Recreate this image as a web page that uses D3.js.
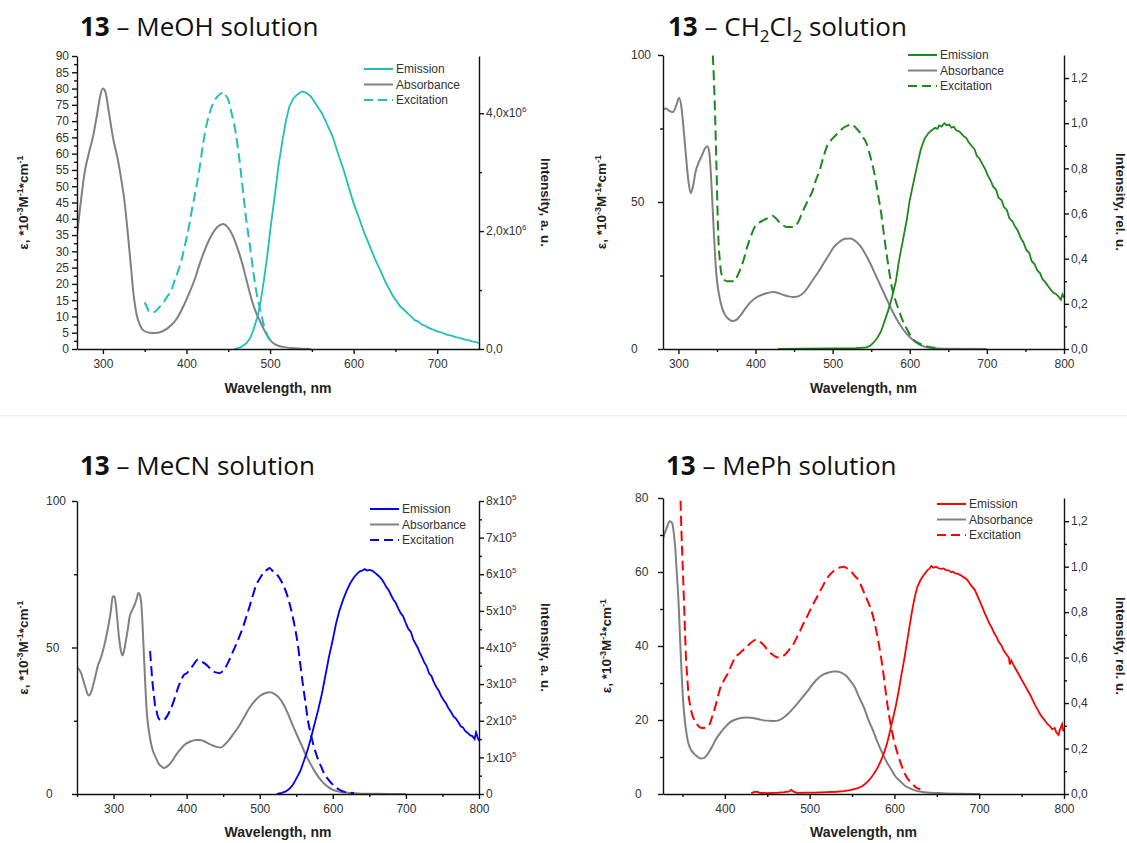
<!DOCTYPE html>
<html>
<head>
<meta charset="utf-8">
<script src="https://cdn.jsdelivr.net/npm/d3@7"></script>
<style>
  body { margin: 0; background: #fff; }
  svg { display: block; }
  .tick text { font-family: "Liberation Sans", Arial, sans-serif; font-size: 12px; fill: #333; }
  .axis path, .axis line { stroke: #111; stroke-width: 1.4; }
  .ttl { font-family: "Open Sans", sans-serif; font-size: 26px; fill: #111; }
  .lab { font-family: "Liberation Sans", Arial, sans-serif; font-size: 14px; font-weight: bold; fill: #222; }
  .leg { font-family: "Liberation Sans", Arial, sans-serif; font-size: 12px; fill: #333; }
</style>
</head>
<body>
<div id="chart"></div>
<script>
// ---- data: [wavelength nm, value] ----
// MeOH: absorbance on left (eps), excitation/emission on right (x10^6)
var meohAbs = [[269,35],[273,44],[278,54],[283,60],[288,65],[293,72],[297,78],[300,80],[303,79],[307,73],[312,65],[318,58],[322,52],[326,45],[330,35],[334,24],[337,16],[340,11],[344,7.5],[349,5.6],[356,5.0],[362,4.9],[370,5.3],[378,6.5],[385,8.2],[390,10],[397,13.5],[403,17],[410,21.5],[416,26.3],[422,30.5],[429,34.5],[437,37.5],[444,38.4],[449,37.5],[455,35],[461,31],[467,26],[472,21],[476,17],[482,12],[489,8],[495,4.8],[502,2.2],[510,1.0],[519,0.5],[530,0.2],[549,0]];
var meohExc = [[350,0.79],[353,0.7],[356,0.62],[362,0.63],[367,0.7],[373,0.8],[377,0.89],[382,1.0],[386,1.17],[390,1.32],[394,1.51],[398,1.75],[403,2.08],[407,2.4],[412,2.76],[416,3.1],[420,3.49],[424,3.8],[429,4.06],[433,4.2],[437,4.28],[441,4.33],[444,4.36],[447,4.3],[450,4.23],[454,4.0],[459,3.66],[463,3.25],[467,2.76],[471,2.25],[476,1.74],[480,1.3],[484,0.94],[489,0.62],[493,0.38],[497,0.22],[502,0.12]];
var meohEm = [[457,0],[465,0.03],[472,0.1],[476,0.18],[480,0.32],[485,0.55],[489,0.83],[493,1.2],[497,1.62],[501,2.1],[506,2.64],[510,3.1],[515,3.55],[519,3.87],[523,4.11],[528,4.25],[532,4.31],[538,4.37],[543,4.35],[549,4.28],[555,4.15],[562,4.0],[568,3.82],[575,3.6],[581,3.33],[588,3.04],[594,2.75],[600,2.47],[607,2.2],[613,1.96],[620,1.72],[626,1.51],[633,1.3],[639,1.11],[647,0.9],[656,0.72],[660,0.67],[665,0.6],[669,0.55],[673,0.49],[677,0.47],[681,0.42],[686,0.39],[691,0.35],[695,0.33],[700,0.3],[705,0.28],[712,0.24],[716,0.23],[722,0.2],[727,0.19],[733,0.16],[737,0.15],[742,0.13],[746,0.12],[750,0.1]];

// CH2Cl2: absorbance left (eps), excitation/emission right (rel. u.)
var dcmAbs = [[280,81.5],[284,81.8],[288,81],[293,80.6],[297,82.7],[301,85.5],[304,82],[307,74],[310,65],[313,57],[316,53],[319,55.5],[322,60],[326,63.3],[330,65.5],[334,68],[337.5,69],[340,67],[342,60],[344,50],[346,39.3],[349,26],[352,19.5],[355,15.5],[360,11.8],[365,10.2],[370,9.5],[375,9.9],[380,11.3],[385,13.1],[392,15.5],[399,17.2],[406,18.2],[413,18.9],[424,19.4],[436,18.4],[443,17.9],[450,17.7],[456,18],[462,19],[468,21],[474,23.4],[481,26],[488,29],[495,32],[502,34.8],[509,36.5],[516,37.5],[523,37.6],[529,36.8],[535,35.3],[542,32.5],[549,29],[556,25],[563,21],[570,17],[577,13.1],[584,9.7],[591,6.8],[598,4.6],[605,2.9],[612,1.6],[619,0.8],[630,0.3],[645,0.1],[700,0]];
var dcmExc = [[344.6,1.30],[347,1.10],[349.3,0.81],[351.6,0.51],[354,0.38],[356,0.33],[360,0.305],[363,0.30],[368,0.30],[373,0.30],[376,0.32],[380,0.35],[385,0.40],[389,0.45],[394,0.50],[399,0.54],[405,0.56],[410,0.57],[416,0.58],[422,0.59],[426,0.58],[430,0.565],[435,0.55],[440,0.54],[448,0.54],[455,0.56],[460,0.6],[464,0.63],[469,0.665],[474,0.70],[478,0.745],[483,0.79],[488,0.85],[493,0.90],[498,0.925],[502,0.94],[508,0.96],[514,0.98],[520,0.99],[525,0.995],[530,0.98],[535,0.96],[540,0.935],[544,0.91],[549,0.85],[554,0.78],[558,0.7],[563,0.6],[566,0.52],[570,0.42],[573,0.35],[577,0.27],[581,0.22],[586,0.17],[591,0.125],[596,0.09],[600,0.065],[605,0.04],[612,0.025],[619,0.015],[626,0.008],[633,0.005]];
var dcmEm = [[429,0],[460,0.002],[500,0.003],[530,0.004],[544,0.007],[549,0.015],[553.5,0.03],[558,0.05],[563,0.08],[567,0.12],[572,0.17],[577,0.23],[582,0.30],[586,0.39],[591,0.48],[596,0.57],[600,0.66],[605,0.74],[610,0.82],[614,0.88],[619,0.93],[624,0.955],[629,0.97],[633,0.98],[636,0.975],[638,0.99],[641,0.985],[645,1.0],[648,0.99],[651,0.995],[654,0.98],[657,0.985],[660,0.97],[663,0.965],[666,0.958],[669,0.945],[673,0.935],[676,0.918],[680,0.90],[684,0.885],[687,0.855],[690,0.845],[694,0.82],[698,0.795],[701,0.77],[705,0.745],[708,0.72],[712,0.705],[715,0.67],[719,0.66],[722,0.63],[726,0.615],[729,0.58],[733,0.565],[737,0.54],[740,0.525],[744,0.49],[747,0.475],[751,0.44],[755,0.425],[758,0.39],[762,0.375],[765,0.35],[769,0.335],[772,0.31],[776,0.295],[779,0.28],[783,0.262],[786,0.25],[790,0.243],[793,0.232],[796,0.218],[798,0.242],[800,0.228]];

// MeCN: absorbance left (eps), excitation/emission right (x10^5)
var mecnAbs = [[250,43],[253,42.5],[256,41],[259,38.5],[262,36],[266,33.6],[269,34.5],[272,37],[275,40],[278,43.3],[282,46],[285,48.5],[289,52.5],[292.6,57],[296,62],[299,67.4],[301,67.5],[303,65],[305,60],[307.4,53.6],[310,49],[312.3,47.3],[314.5,49],[317,52.5],[320,57],[322,60.5],[326,63],[329.5,65],[332,67],[334,68.7],[336,68],[338,65],[340,56],[341.7,46.7],[343.5,37],[345,29.6],[347,24],[349,20.4],[352,16.5],[354,14.7],[358,12.3],[361,10.7],[365,9.5],[368.8,8.9],[372,9.2],[376,10],[381,11.6],[386,13.5],[392,15.4],[398,17],[405,17.9],[413,18.4],[418,18.4],[423,18.1],[430,17.2],[437.5,16.4],[442,16],[447,15.9],[452,16.8],[457,18.1],[464,20.5],[472,23.3],[479,26.4],[486.6,29.6],[494,32],[501,33.6],[507,34.4],[513.6,34.7],[520,34.2],[526,33],[532,30.8],[538,27.8],[544,24.1],[550.5,20.4],[557,16.8],[562.8,13.5],[569,10.5],[575,7.8],[581,5.6],[587,3.8],[593,2.5],[599.6,1.5],[607,0.9],[614,0.6],[624,0.35],[634,0.2],[660,0.05],[700,0]];
var mecnExc = [[350,3.9],[351.5,3.5],[353,3.1],[355,2.75],[356.5,2.46],[359,2.25],[361,2.09],[364,2.02],[367.8,2.0],[371,2.06],[373.7,2.14],[377,2.27],[381,2.46],[385,2.7],[388.4,2.91],[392,3.08],[395.8,3.24],[400,3.3],[405.6,3.42],[410,3.55],[415.4,3.67],[420,3.62],[425,3.56],[430,3.47],[435,3.37],[440,3.32],[445,3.3],[448,3.33],[452,3.42],[457,3.6],[462,3.83],[467,4.05],[472,4.29],[477,4.55],[481.7,4.84],[486.6,5.15],[491.5,5.48],[495,5.7],[499,5.85],[503,5.98],[506,6.08],[510,6.12],[513.6,6.17],[517,6.1],[521,6.03],[526,5.93],[530.8,5.76],[536,5.52],[540.7,5.21],[544.5,4.9],[548,4.56],[552,4.1],[555.4,3.56],[559,3.0],[562.8,2.46],[566,2.0],[570,1.63],[574,1.3],[577.5,1.08],[581,0.88],[584.9,0.71],[588,0.56],[592,0.44],[597,0.32],[602,0.21],[608,0.13],[614,0.07],[621,0.04],[629,0.03]];
var mecnEm = [[523.5,0],[530,0.03],[535.8,0.07],[541,0.15],[545.6,0.26],[550,0.42],[555.4,0.62],[560,0.88],[565,1.17],[570,1.52],[575,1.91],[580,2.3],[585,2.73],[590,3.25],[594.7,3.74],[600,4.22],[604.5,4.66],[609,5.0],[614,5.3],[619,5.55],[624,5.76],[629,5.92],[634,6.03],[637,6.08],[640,6.1],[643.8,6.14],[647,6.1],[650,6.12],[653.6,6.1],[657,6.05],[660,6.0],[663.5,5.94],[667,5.86],[670,5.77],[673,5.66],[676,5.58],[680,5.42],[683,5.3],[686,5.22],[690,5.05],[693,4.93],[696,4.86],[700,4.66],[703,4.52],[707,4.42],[710,4.22],[713,4.11],[716,4.0],[719,3.86],[722,3.74],[725,3.6],[728,3.5],[732,3.28],[735,3.22],[738,3.06],[742,2.91],[745,2.82],[748,2.68],[752,2.55],[755,2.47],[758,2.35],[762,2.23],[765,2.12],[768,2.07],[772,1.95],[775,1.85],[778,1.82],[781,1.72],[785,1.66],[788,1.6],[791,1.58],[794,1.5],[796,1.68],[798,1.55],[800,1.45]];

// MePh: absorbance left (eps), excitation/emission right (rel. u.)
var mephAbs = [[327,69],[329,70.5],[331.4,71.9],[334.8,73.7],[337.8,73.2],[339.5,71],[341.3,66.9],[343.5,59],[345.6,50.6],[347.3,41],[349,32.4],[350.5,26],[352,21.6],[354,17.5],[356.3,14.3],[359,12.4],[362.7,11.1],[367,10.2],[371.3,9.6],[375,9.7],[377.7,10.2],[382,11.6],[386.3,13.4],[390,15],[394.9,16.6],[400,18],[405.6,19.3],[411,20],[416.3,20.4],[421,20.6],[427,20.7],[434,20.5],[439.9,20.2],[446,19.9],[452.7,19.8],[458,19.7],[463.4,19.9],[469,20.6],[474.2,21.6],[480,23],[485,24.3],[491,26],[497.7,27.9],[504,29.8],[510.6,31.4],[517,32.4],[523.4,32.9],[528,33.1],[532,33.1],[537,32.8],[542.7,32],[548,30.6],[553.4,28.8],[558,26.3],[564,23.4],[569,20.2],[575,17],[580,14],[585.6,11.1],[591,8.6],[596.3,6.6],[601,4.8],[607,3.4],[612,2.3],[617.7,1.6],[625,0.9],[635,0.5],[656,0.2],[680,0.05],[701,0]];
var mephExc = [[347.7,1.29],[348.8,1.15],[349.9,1.04],[351,0.93],[352,0.82],[353,0.71],[354.1,0.6],[355.5,0.52],[357,0.44],[359,0.39],[361.4,0.35],[364,0.325],[367,0.307],[370,0.295],[373.4,0.29],[378,0.292],[382,0.307],[385,0.34],[388.4,0.38],[391.5,0.425],[394.9,0.47],[399,0.5],[403.4,0.53],[407.5,0.565],[412,0.6],[416,0.615],[420.6,0.63],[425,0.645],[429,0.66],[433,0.672],[437.7,0.68],[442,0.668],[446.3,0.653],[450,0.635],[454.9,0.617],[459,0.605],[463.4,0.6],[468,0.605],[472,0.617],[476,0.635],[480.6,0.658],[485,0.69],[489,0.72],[493,0.752],[497.7,0.786],[502,0.82],[506.3,0.85],[510.5,0.88],[514.9,0.91],[519,0.94],[523.4,0.963],[528,0.98],[532,0.99],[536,0.997],[540.6,1.0],[545,0.99],[549,0.978],[553,0.96],[557.7,0.94],[562,0.905],[566.3,0.867],[571,0.825],[574.9,0.78],[579,0.71],[583.5,0.617],[587,0.53],[590,0.44],[593,0.36],[596.3,0.29],[599.5,0.235],[602.7,0.19],[607,0.14],[611,0.1],[615,0.07],[620,0.05],[625,0.03],[630.6,0.02]];
var mephEm = [[431,0.004],[434,0.008],[437.7,0.01],[441,0.005],[450,0.004],[463,0.006],[470,0.008],[475,0.01],[478.4,0.018],[481,0.01],[485,0.005],[495,0.006],[506,0.006],[520,0.008],[532,0.01],[540,0.013],[549,0.018],[556,0.025],[562,0.034],[566,0.046],[570.6,0.063],[575,0.085],[579,0.108],[582,0.13],[585.6,0.16],[589,0.195],[592,0.233],[595,0.28],[598.5,0.336],[602,0.395],[605,0.454],[608,0.52],[611.3,0.587],[614.5,0.66],[617.7,0.735],[621,0.81],[624,0.867],[627,0.91],[630.6,0.94],[634,0.96],[637,0.975],[639,0.985],[641,0.99],[643.5,1.003],[646,0.995],[649,1.0],[652,0.993],[655,0.99],[658,0.992],[660.6,0.985],[664,0.984],[667,0.975],[669,0.978],[672,0.97],[675,0.968],[677.8,0.963],[681,0.955],[684,0.948],[686.3,0.94],[689,0.925],[692,0.91],[694.9,0.897],[698,0.87],[701,0.845],[703.5,0.823],[706,0.8],[709,0.775],[712,0.75],[715,0.73],[718,0.705],[720.6,0.69],[723,0.67],[726,0.655],[729,0.63],[732,0.615],[735,0.6],[736,0.57],[737.8,0.587],[740,0.57],[743,0.55],[746.4,0.528],[749,0.51],[752,0.49],[755,0.47],[758,0.45],[761,0.43],[763.5,0.41],[766,0.39],[769,0.37],[772,0.35],[775,0.335],[778,0.32],[780.6,0.307],[783,0.3],[786,0.285],[789,0.29],[791,0.27],[793.5,0.26],[795,0.28],[797.8,0.307],[799,0.28],[800,0.277]];

// ---- ticks ----
var meohXTicks = [300,400,500,600,700], meohXMinor = [350,450,550,650];
var meohLTicks = d3.range(0, 91, 5), meohLMinor = d3.range(2.5, 90, 5);
var meohRTicks = [0, 2, 4], meohRMinor = [1, 3];
var meohRLabels = [["0,0",""],["2,0x10","6"],["4,0x10","6"]];

var dcmXTicks = [300,400,500,600,700,800], dcmXMinor = [350,450,550,650,750];
var dcmLTicks = [0,50,100], dcmLMinor = [25,75];
var dcmRTicks = [0,0.2,0.4,0.6,0.8,1.0,1.2], dcmRMinor = [0.1,0.3,0.5,0.7,0.9,1.1];
var dcmRLabels = [["0,0",""],["0,2",""],["0,4",""],["0,6",""],["0,8",""],["1,0",""],["1,2",""]];

var mecnXTicks = [300,400,500,600,700,800], mecnXMinor = [250,350,450,550,650,750];
var mecnLTicks = [0,50,100], mecnLMinor = [25,75];
var mecnRTicks = [0,1,2,3,4,5,6,7,8], mecnRMinor = [0.5,1.5,2.5,3.5,4.5,5.5,6.5,7.5];
var mecnRLabels = [["0",""],["1x10","5"],["2x10","5"],["3x10","5"],["4x10","5"],["5x10","5"],["6x10","5"],["7x10","5"],["8x10","5"]];

var mephXTicks = [400,500,600,700,800], mephXMinor = [350,450,550,650,750];
var mephLTicks = [0,20,40,60,80], mephLMinor = [10,30,50,70];
var mephRTicks = dcmRTicks, mephRMinor = dcmRMinor, mephRLabels = dcmRLabels;

var legendNames = ["Emission", "Absorbance", "Excitation"];

var W = 1127, H = 843;
var svg = d3.select("#chart").append("svg").attr("width", W).attr("height", H);

// faint separator between rows
svg.append("line").attr("x1", 0).attr("x2", W).attr("y1", 415.5).attr("y2", 415.5)
  .style("stroke", "#eeeeee").style("stroke-width", 1.5);

var panels = [
  {id: "p1", title: [["MeOH solution", false]], tx: 80, ty: 36,
   left: 77, right: 479, top: 56, bottom: 349, xd: [269, 750], yl: [0, 90], yr: [0, 4.97],
   color: "#1fbfbf", abs: meohAbs, exc: meohExc, em: meohEm,
   xt: meohXTicks, xm: meohXMinor, lt: meohLTicks, lm: meohLMinor, lAlign: "end", lx: 69,
   rt: meohRTicks, rm: meohRMinor, rl: meohRLabels, rLabel: "Intensity, a. u.",
   lgX: 364, lgY: 69, lyX: 28, ryX: 541, xlY: 393},
  {id: "p2", title: [["CH", false], ["2", true], ["Cl", false], ["2", true], [" solution", false]], tx: 668, ty: 36,
   left: 663, right: 1064, top: 55, bottom: 349, xd: [280, 800], yl: [0, 100], yr: [0, 1.302],
   color: "#1a8a1a", abs: dcmAbs, exc: dcmExc, em: dcmEm,
   xt: dcmXTicks, xm: dcmXMinor, lt: dcmLTicks, lm: dcmLMinor, lAlign: "start", lx: 631,
   rt: dcmRTicks, rm: dcmRMinor, rl: dcmRLabels, rLabel: "Intensity, rel. u.",
   lgX: 908, lgY: 55, lyX: 606, ryX: 1116, xlY: 393},
  {id: "p3", title: [["MeCN solution", false]], tx: 80, ty: 475,
   left: 77, right: 479, top: 501, bottom: 794, xd: [250, 800], yl: [0, 100], yr: [0, 8],
   color: "#0000ff", abs: mecnAbs, exc: mecnExc, em: mecnEm,
   xt: mecnXTicks, xm: mecnXMinor, lt: mecnLTicks, lm: mecnLMinor, lAlign: "start", lx: 46,
   rt: mecnRTicks, rm: mecnRMinor, rl: mecnRLabels, rLabel: "Intensity, a. u.",
   lgX: 370, lgY: 509, lyX: 28, ryX: 541, xlY: 837},
  {id: "p4", title: [["MePh solution", false]], tx: 666, ty: 475,
   left: 663, right: 1064, top: 498, bottom: 794, xd: [327, 800], yl: [0, 80], yr: [0, 1.302],
   color: "#ff0000", abs: mephAbs, exc: mephExc, em: mephEm,
   xt: mephXTicks, xm: mephXMinor, lt: mephLTicks, lm: mephLMinor, lAlign: "start", lx: 635,
   rt: mephRTicks, rm: mephRMinor, rl: mephRLabels, rLabel: "Intensity, rel. u.",
   lgX: 937, lgY: 504, lyX: 611, ryX: 1116, xlY: 837}
];

panels.forEach(drawPanel);

function drawPanel(p) {
  var g = svg.append("g");
  var x = d3.scaleLinear().domain(p.xd).range([p.left, p.right]);
  var yL = d3.scaleLinear().domain(p.yl).range([p.bottom, p.top]);
  var yR = d3.scaleLinear().domain(p.yr).range([p.bottom, p.top]);

  // title, subscripts shifted down then back up
  var t = g.append("text").attr("class", "ttl").attr("x", p.tx).attr("y", p.ty);
  t.append("tspan").style("font-weight", "bold").text("13");
  t.append("tspan").text(" \u2013 ");
  var shifted = false;
  p.title.forEach(function(s) {
    if (s[1]) {
      t.append("tspan").attr("dy", shifted ? 0 : 6).style("font-size", "17px").text(s[0]);
      shifted = true;
    } else {
      t.append("tspan").attr("dy", shifted ? -6 : 0).text(s[0]);
      shifted = false;
    }
  });

  // clip
  g.append("clipPath").attr("id", "clip-" + p.id).append("rect")
    .attr("x", p.left).attr("y", p.top).attr("width", p.right - p.left).attr("height", p.bottom - p.top);
  var plot = g.append("g").attr("clip-path", "url(#clip-" + p.id + ")");

  var lineL = d3.line().x(function(d) { return x(d[0]); }).y(function(d) { return yL(d[1]); }).curve(d3.curveMonotoneX);
  var lineR = d3.line().x(function(d) { return x(d[0]); }).y(function(d) { return yR(d[1]); }).curve(d3.curveMonotoneX);
  var lineRaw = d3.line().x(function(d) { return x(d[0]); }).y(function(d) { return yR(d[1]); });

  plot.append("path").datum(p.abs).attr("d", lineL)
    .style("fill", "none").style("stroke", "#808080").style("stroke-width", 2);
  plot.append("path").datum(p.exc).attr("d", lineR)
    .style("fill", "none").style("stroke", p.color).style("stroke-width", 2).style("stroke-dasharray", "10,5");
  plot.append("path").datum(p.em).attr("d", lineRaw)
    .style("fill", "none").style("stroke", p.color).style("stroke-width", 1.8);

  // axes
  var xb = g.append("g").attr("class", "axis").attr("transform", "translate(0," + p.bottom + ")");
  xb.call(d3.axisBottom(x).tickValues(p.xt).tickSize(5).tickSizeOuter(0).tickPadding(5).tickFormat(d3.format("d")));
  xb.append("g").call(d3.axisBottom(x).tickValues(p.xm).tickSize(3).tickSizeOuter(0).tickFormat(""))
    .select(".domain").remove();

  var ya = g.append("g").attr("class", "axis").attr("transform", "translate(" + p.left + ",0)");
  ya.call(d3.axisLeft(yL).tickValues(p.lt).tickSize(5).tickSizeOuter(0).tickFormat(d3.format("d")));
  ya.append("g").call(d3.axisLeft(yL).tickValues(p.lm).tickSize(3).tickSizeOuter(0).tickFormat(""))
    .select(".domain").remove();
  ya.selectAll(".tick text").attr("text-anchor", p.lAlign).attr("x", p.lx - p.left);

  var yb = g.append("g").attr("class", "axis").attr("transform", "translate(" + p.right + ",0)");
  yb.call(d3.axisRight(yR).tickValues(p.rt).tickSize(5).tickSizeOuter(0).tickFormat(""));
  yb.append("g").call(d3.axisRight(yR).tickValues(p.rm).tickSize(3).tickSizeOuter(0).tickFormat(""))
    .select(".domain").remove();
  // right tick labels with superscripts
  p.rt.forEach(function(v, i) {
    var lt = g.append("text").attr("class", "tick-r")
      .attr("x", p.right + 7).attr("y", yR(v)).attr("dy", "0.35em")
      .style("font-family", "Liberation Sans, Arial, sans-serif").style("font-size", "12px").style("fill", "#333");
    lt.append("tspan").text(p.rl[i][0]);
    if (p.rl[i][1]) lt.append("tspan").attr("dy", -5).style("font-size", "8px").text(p.rl[i][1]);
  });

  // axis titles
  g.append("text").attr("class", "lab").attr("x", (p.left + p.right) / 2).attr("y", p.xlY)
    .attr("text-anchor", "middle").text("Wavelength, nm");

  var cy = (p.top + p.bottom) / 2;
  var yl = g.append("text").attr("class", "lab").style("font-size", "13.5px")
    .attr("text-anchor", "middle").attr("transform", "translate(" + p.lyX + "," + cy + ") rotate(-90)");
  yl.append("tspan").text("\u03b5, *10");
  yl.append("tspan").attr("dy", -5).style("font-size", "9px").text("-3");
  yl.append("tspan").attr("dy", 5).text("M");
  yl.append("tspan").attr("dy", -5).style("font-size", "9px").text("-1");
  yl.append("tspan").attr("dy", 5).text("*cm");
  yl.append("tspan").attr("dy", -5).style("font-size", "9px").text("-1");

  g.append("text").attr("class", "lab").style("font-size", "13.5px")
    .attr("text-anchor", "middle").attr("transform", "translate(" + p.ryX + "," + cy + ") rotate(90)")
    .text(p.rLabel);

  // legend
  var lg = g.append("g").attr("transform", "translate(" + p.lgX + "," + p.lgY + ")");
  legendNames.forEach(function(name, i) {
    var row = lg.append("g").attr("transform", "translate(0," + (i * 15.5) + ")");
    row.append("line").attr("x1", 0).attr("x2", 29).attr("y1", 0).attr("y2", 0)
      .style("stroke", i === 1 ? "#808080" : p.color).style("stroke-width", 2)
      .style("stroke-dasharray", i === 2 ? "9,5" : null);
    row.append("text").attr("class", "leg").attr("x", 32).attr("y", 0).attr("dy", "0.35em").text(name);
  });
}
</script>
</body>
</html>
